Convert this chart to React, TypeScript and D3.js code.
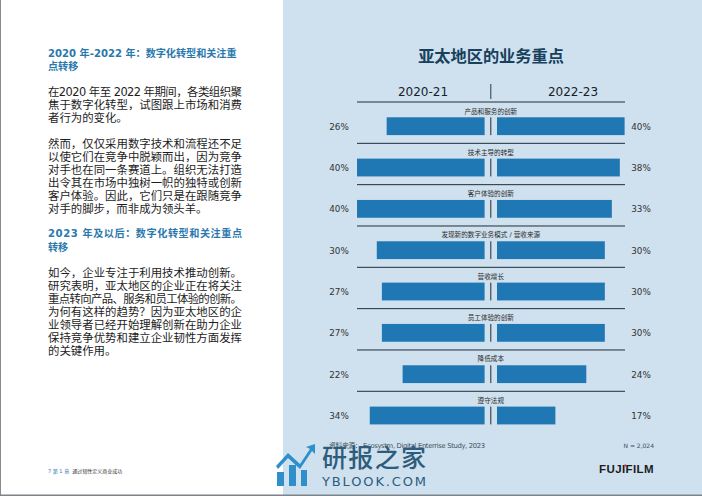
import React from "react";
import * as d3 from "d3";

const categories = ["产品和服务的创新", "技术主导的转型", "客户体验的创新", "发现新的数字业务模式 / 营收来源", "营收增长", "员工体验的创新", "降低成本", "遵守法规"];
const labelsLeft = [26, 40, 40, 30, 27, 27, 22, 34];
const labelsRight = [40, 38, 33, 30, 30, 30, 24, 17];
// bar lengths as drawn in the source (they do not follow the printed labels exactly)
const drawnLeft = [30.7, 40, 40, 33.8, 32.2, 32.2, 25.7, 36];
const drawnRight = [40, 38.5, 36, 33.8, 33.8, 33.8, 28, 18.3];
const periods = ["2020-21", "2022-23"];
const title = "亚太地区的业务重点";
const source = "资料来源： Ecosystm, Digital Enterrise Study, 2023";
const sample = "N = 2,024";

const headings: [string, number, boolean][] = [
  ["2020 年-2022 年：数字化转型和关注重", 57, false],
  ["点转移", 70, false],
  ["2023  年及以后：数字化转型和关注重点", 237, true],
  ["转移", 251, false],
];
const bodyLines: [string, number, boolean][] = [
  ["在2020 年至 2022 年期间，各类组织聚", 96, true],
  ["焦于数字化转型，试图跟上市场和消费", 109, true],
  ["者行为的变化。", 122, false],
  ["然而，仅仅采用数字技术和流程还不足", 148, true],
  ["以使它们在竞争中脱颖而出，因为竞争", 161, true],
  ["对手也在同一条赛道上。组织无法打造", 174, true],
  ["出令其在市场中独树一帜的独特或创新", 187, true],
  ["客户体验。因此，它们只是在跟随竞争", 200, true],
  ["对手的脚步，而非成为领头羊。", 213, false],
  ["如今，企业专注于利用技术推动创新。", 277, true],
  ["研究表明，亚太地区的企业正在将关注", 290, true],
  ["重点转向产品、服务和员工体验的创新。", 303, true],
  ["为何有这样的趋势？因为亚太地区的企", 316, true],
  ["业领导者已经开始理解创新在助力企业", 329, true],
  ["保持竞争优势和建立企业韧性方面发挥", 342, true],
  ["的关键作用。", 355, false],
];

const font = "'DejaVu Sans', 'Noto Sans CJK SC', sans-serif";
const bar = "#1f77b4";
const panel = "#cfe0ee";

export default function App() {
  const cx = 490.8;
  const xL = d3.scaleLinear().domain([0, 40]).range([484.6, 357]);
  const xR = d3.scaleLinear().domain([0, 40]).range([497, 624.6]);
  const yLine = d3.scaleLinear().domain([0, 7]).range([102, 391.3]);
  return (
    <svg width={702} height={496} style={{ position: "fixed", left: 0, top: 0, background: "#fff" }} fontFamily={font}>
      <rect x={283} y={0} width={419} height={496} fill={panel} />
      <rect x={0} y={0} width={1} height={496} fill="#8a8a8a" />
      <rect x={0} y={494.5} width={702} height={1.5} fill="#7d8489" />

      {headings.map(([t, y, just]) => (
        <text key={t} x={48} y={y} fontSize={10.1} fontWeight={700} fill="#2a78ad" textLength={just ? 194 : undefined} lengthAdjust="spacing">{t}</text>
      ))}
      {bodyLines.map(([t, y, just]) => (
        <text key={t} x={48} y={y} fontSize={11.4} fill="#1c1c1c" textLength={just ? 194 : undefined} lengthAdjust="spacing">{t}</text>
      ))}
      <text x={48} y={473} fontSize={5} fill="#333">
        <tspan fill="#2a78ad">7  第 1 章</tspan>
        <tspan dx={3}>通过韧性定义商业成功</tspan>
      </text>

      <text x={491} y={62} textAnchor="middle" fontSize={16.2} fontWeight={700} fill="#17405c">{title}</text>
      <text x={423} y={96} textAnchor="middle" fontSize={12} fontWeight={500} fill="#15222b">{periods[0]}</text>
      <text x={573} y={96} textAnchor="middle" fontSize={12} fontWeight={500} fill="#15222b">{periods[1]}</text>
      <line x1={cx} x2={cx} y1={84} y2={99} stroke="#2a3d4a" strokeWidth={1} />

      {categories.map((c, i) => {
        const top = yLine(i);
        const by = top + 15.3;
        const bh = 17.8;
        return (
          <g key={c}>
            <line x1={357} x2={625} y1={top} y2={top} stroke="#1f2e38" strokeWidth={1} />
            <text x={cx} y={top + 11.5} textAnchor="middle" fontSize={6.6} fill="#2b2b2b">{c}</text>
            <rect x={xL(drawnLeft[i])} y={by} width={xL(0) - xL(drawnLeft[i])} height={bh} fill={bar} />
            <rect x={xR(0)} y={by} width={xR(drawnRight[i]) - xR(0)} height={bh} fill={bar} />
            <line x1={cx} x2={cx} y1={by} y2={by + bh} stroke="#1f2e38" strokeWidth={1} />
            <text x={339} y={by + 12.5} textAnchor="middle" fontSize={8.8} fill="#333">{labelsLeft[i]}%</text>
            <text x={641} y={by + 12.5} textAnchor="middle" fontSize={8.8} fill="#333">{labelsRight[i]}%</text>
          </g>
        );
      })}

      <text x={329} y={448} fontSize={6.8} fill="#40505a" textLength={156}>{source}</text>
      <text x={654} y={448} textAnchor="end" fontSize={6} fill="#40505a">{sample}</text>
      <text x={654} y={473} textAnchor="end" fontSize={11.5} fontWeight={700} fill="#1c1c1c" fontFamily="'Liberation Sans', sans-serif" letterSpacing={0.4}>FUJIFILM</text>
      <rect x={624.5} y={464.5} width={1.6} height={2} fill="#d02030" />

      <g fill="#2f8fcb">
        <rect x={277} y={472} width={7} height={14} />
        <rect x={289} y={465} width={7} height={21} />
        <rect x={301} y={470} width={6} height={16} />
        <path d="M276 466 L288 453 L300 464 L310 449 L306 447 L315 444 L315 454 L312 451 L300 469 L288 458 L278 469 Z" />
      </g>
      <text x={322} y={467} fontSize={25} fontWeight={500} fill="#2d5c7c" fontFamily="'Noto Sans CJK SC', sans-serif" textLength={104}>研报之家</text>
      <text x={322} y={486} fontSize={13} fontWeight={500} fill="#2d5c7c" textLength={104} fontFamily="'DejaVu Sans', sans-serif">YBLOOK.COM</text>
    </svg>
  );
}
